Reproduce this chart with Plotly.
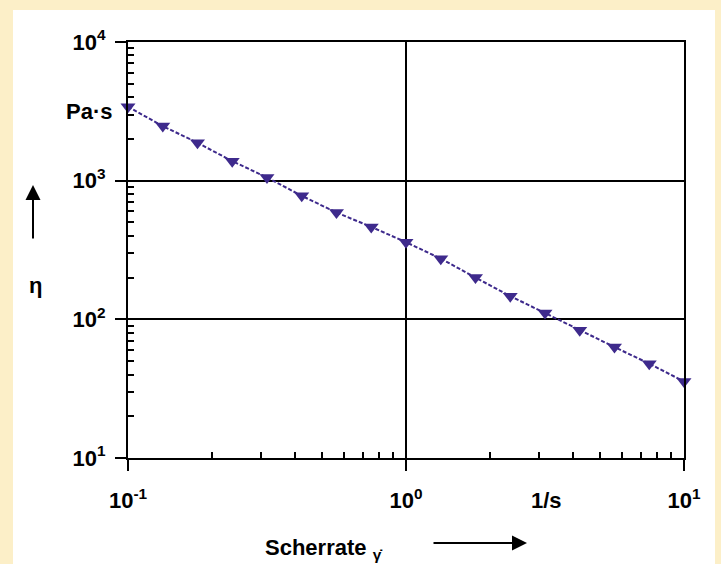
import plotly.graph_objects as go

# Data (shear rate in 1/s, viscosity in Pa·s)
shear_rate = [0.1, 0.1334, 0.1778, 0.2371, 0.3162, 0.4217, 0.5623, 0.7499, 1.0,
              1.334, 1.778, 2.371, 3.162, 4.217, 5.623, 7.499, 10.0]
viscosity = [3410, 2475, 1876, 1383, 1055, 777, 589, 464, 360,
             274, 200, 147, 111, 83.3, 63.1, 47.9, 35.6]

x_tickvals = [0.1, 1, 10]
x_ticktext = ["<b>10<sup>-1</sup></b>", "<b>10<sup>0</sup></b>", "<b>10<sup>1</sup></b>"]
y_tickvals = [10, 100, 1000, 10000]
y_ticktext = ["<b>10<sup>1</sup></b>", "<b>10<sup>2</sup></b>",
              "<b>10<sup>3</sup></b>", "<b>10<sup>4</sup></b>"]

x_minor = [m * 10 ** e for e in (-1, 0) for m in range(2, 10)]
y_minor = [m * 10 ** e for e in (1, 2, 3) for m in range(2, 10)]

CREAM = "#FCEFC8"
PURPLE = "#3E2A8C"
FONT = "Liberation Sans"

fig = go.Figure()
fig.add_trace(go.Scatter(
    x=shear_rate, y=viscosity, mode="lines+markers",
    line=dict(color=PURPLE, width=2, dash="4px,2px"),
    marker=dict(symbol="triangle-down", size=13, color=PURPLE),
    cliponaxis=False, showlegend=False,
))

L, R, T, B = 128, 37, 42, 106
W, H = 721, 564
pw, ph = W - L - R, H - T - B

def px(xp):
    return (xp - L) / pw

def py(yp):
    return (H - B - yp) / ph

axis_common = dict(
    type="log", showline=True, linecolor="black", linewidth=2, mirror=True,
    showgrid=True, gridcolor="black", gridwidth=1.5,
    ticks="outside", ticklen=11, tickwidth=2, tickcolor="black",
    tickfont=dict(family=FONT, size=22, color="black"),
    zeroline=False,
)

fig.update_layout(
    width=W, height=H,
    margin=dict(l=L, r=R, t=T, b=B),
    paper_bgcolor=CREAM, plot_bgcolor="white",
    xaxis=dict(range=[-1, 1], tickvals=x_tickvals, ticktext=x_ticktext,
               ticklabelstandoff=11,
               minor=dict(tickvals=x_minor, ticks="inside", ticklen=6,
                          tickwidth=1.5, tickcolor="black", showgrid=False),
               **axis_common),
    yaxis=dict(range=[1, 4], tickvals=y_tickvals, ticktext=y_ticktext,
               ticklabelstandoff=5,
               minor=dict(tickvals=y_minor, ticks="inside", ticklen=6,
                          tickwidth=1.5, tickcolor="black", showgrid=False),
               **axis_common),
    shapes=[dict(type="rect", xref="paper", yref="paper", layer="below",
                 x0=px(13), x1=px(715), y0=py(570), y1=py(10),
                 fillcolor="white", line=dict(width=0))],
)

bold = dict(family=FONT, size=22, color="black")
fig.add_annotation(x=px(114), y=py(112), xref="paper", yref="paper",
                   text="<b>Pa·s</b>", showarrow=False,
                   xanchor="right", yanchor="middle", font=bold)
fig.add_annotation(x=px(546), y=py(500), xref="paper", yref="paper",
                   text="<b>1/s</b>", showarrow=False,
                   xanchor="center", yanchor="middle", font=bold)
fig.add_annotation(x=px(35), y=py(285), xref="paper", yref="paper",
                   text="<b>η</b>", showarrow=False,
                   xanchor="center", yanchor="middle", font=bold)
fig.add_annotation(x=px(33), y=py(185), xref="paper", yref="paper",
                   ax=0, ay=55, text="", showarrow=True, arrowhead=2,
                   arrowsize=1.5, arrowwidth=2, arrowcolor="black")
fig.add_annotation(x=px(263), y=py(549), xref="paper", yref="paper",
                   xanchor="left", yanchor="middle",
                   text="<b>Scherrate <sub>γ̇</sub></b>", showarrow=False,
                   font=dict(family=FONT, size=22, color="black"))
fig.add_annotation(x=px(527), y=py(543), xref="paper", yref="paper",
                   ax=-95, ay=0, text="", showarrow=True, arrowhead=2,
                   arrowsize=1.5, arrowwidth=2, arrowcolor="black")

fig.write_html("out.html",
               config={"displayModeBar": False},
               post_script="document.body.style.margin='0';")
